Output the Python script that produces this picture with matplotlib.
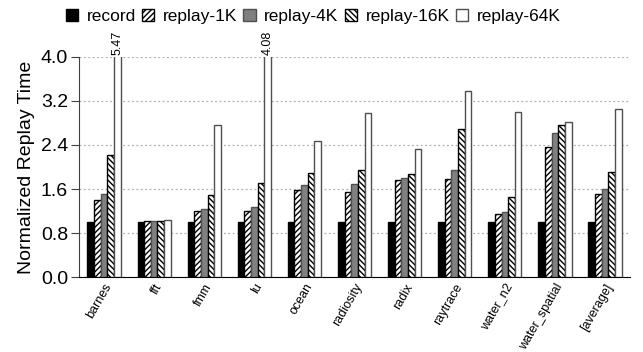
import numpy as np
import matplotlib
matplotlib.use("Agg")
import matplotlib.pyplot as plt

plt.rcParams['font.family'] = ['Liberation Sans', 'DejaVu Sans']
plt.rcParams['hatch.linewidth'] = 1.0

# данные
benchmarks = ['barnes', 'fft', 'fmm', 'lu', 'ocean', 'radiosity', 'radix',
              'raytrace', 'water_n2', 'water_spatial', '[average]']
series = ['record', 'replay-1K', 'replay-4K', 'replay-16K', 'replay-64K']
record = [1.0, 1.0, 1.0, 1.0, 1.0, 1.0, 1.0, 1.0, 1.0, 1.0, 1.0]
replay_1k = [1.41, 1.02, 1.20, 1.21, 1.59, 1.54, 1.76, 1.78, 1.155, 2.37, 1.51]
replay_4k = [1.52, 1.02, 1.245, 1.28, 1.67, 1.70, 1.80, 1.95, 1.19, 2.61, 1.60]
replay_16k = [2.22, 1.03, 1.50, 1.71, 1.90, 1.95, 1.88, 2.69, 1.46, 2.76, 1.915]
replay_64k = [5.47, 1.04, 2.77, 4.08, 2.47, 2.98, 2.33, 3.38, 3.00, 2.81, 3.05]
yticks = [0.0, 0.8, 1.6, 2.4, 3.2, 4.0]

values = [record, replay_1k, replay_4k, replay_16k, replay_64k]
faces = ['black', 'white', '#808080', 'white', 'white']
edges = ['black', 'black', '#505050', 'black', '#505050']
hatches = [None, '//////', None, '\\\\\\\\\\\\', None]

fig = plt.figure(figsize=(6.43, 3.52), dpi=100)
ax = fig.add_axes([0.1229, 0.212, 0.857, 0.627])

x = np.arange(len(benchmarks))
w = 0.133
ymax = 4.0
for i, (vals, name) in enumerate(zip(values, series)):
    pos = x + (i - 2) * w
    ax.bar(pos, vals, w, color=faces[i], edgecolor=edges[i], hatch=hatches[i],
           linewidth=1.0, label=name, zorder=3)
    if i == 4:
        for px, v in zip(pos, vals):
            if v > ymax:
                ax.text(px, ymax + 0.03, f'{v:.2f}', rotation=90, ha='center',
                        va='bottom', fontsize=9)

ax.set_xlim(-0.5, len(benchmarks) - 0.5)
ax.set_ylim(0, ymax)
ax.set_yticks(yticks)
ax.set_yticklabels([f'{t:.1f}' for t in yticks], fontsize=14)
ax.set_xticks(x)
ax.set_xticklabels(benchmarks, rotation=60, ha='right', va='top',
                   rotation_mode='anchor', fontsize=9)
ax.tick_params(axis='x', length=0, pad=3)
ax.tick_params(axis='y', length=6, pad=2, color='#404040')
ax.set_ylabel('Normalized Replay Time', fontsize=14, labelpad=4)

ax.yaxis.grid(True, linestyle=(0, (1.5, 2)), color='#b0b0b0', linewidth=0.9, zorder=0)
ax.set_axisbelow(True)
ax.spines['top'].set_visible(False)
ax.spines['right'].set_visible(False)
ax.spines['left'].set_color('#404040')
ax.spines['bottom'].set_color('black')

fig.legend(loc='center', bbox_to_anchor=(0.487, 0.952), ncol=5, frameon=False,
           fontsize=12.5, handlelength=0.7, handleheight=0.7, handletextpad=0.5,
           columnspacing=0.35, borderaxespad=0, borderpad=0)

fig.savefig('out.png', dpi=100)
